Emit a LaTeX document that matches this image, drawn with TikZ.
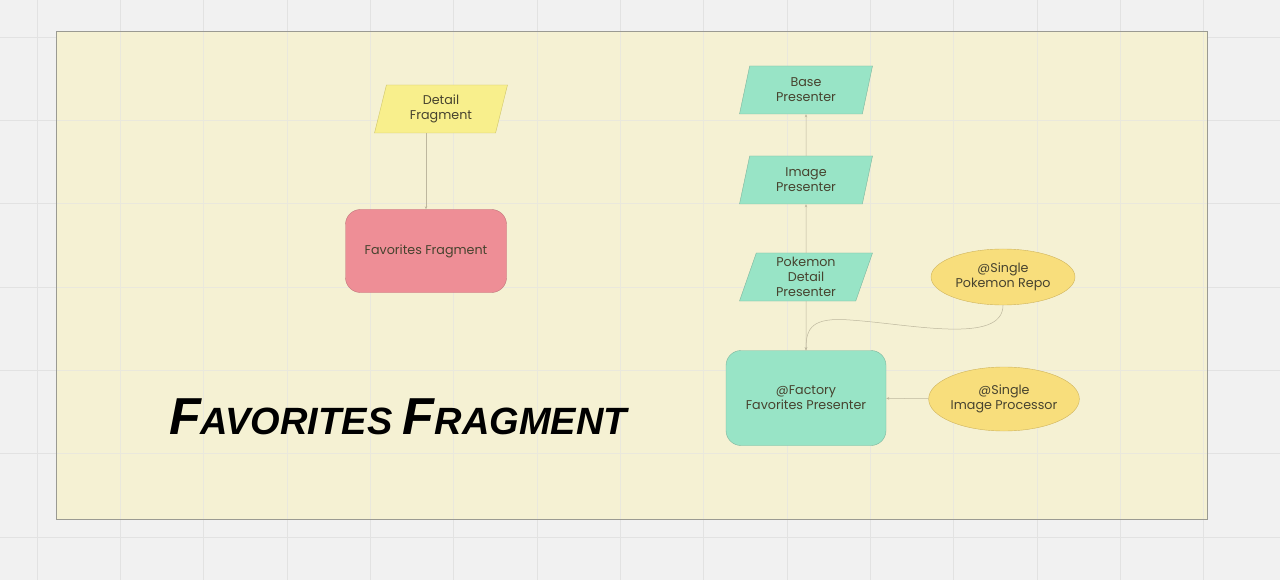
\documentclass[tikz,border=0pt]{standalone}
\usepackage{fontspec}
\setmainfont{Poppins}
\newfontfamily\titlefont{Liberation Sans}
\usetikzlibrary{shapes.geometric,arrows.meta}

\definecolor{pagebg}{HTML}{F1F1F1}
\definecolor{gridgray}{HTML}{E2E2E2}
\definecolor{framefill}{HTML}{F5F1D3}
\definecolor{frameline}{HTML}{9A9A92}
\definecolor{yelfill}{HTML}{F8EF8C}
\definecolor{yelline}{HTML}{CFC66C}
\definecolor{pinkfill}{HTML}{EE8E96}
\definecolor{pinkline}{HTML}{C0747A}
\definecolor{greenfill}{HTML}{98E4C6}
\definecolor{greenline}{HTML}{7DB59D}
\definecolor{goldfill}{HTML}{F8DE7C}
\definecolor{goldline}{HTML}{CFB45C}
\definecolor{txt}{HTML}{47432F}
\definecolor{linkcol}{HTML}{BDB79E}

\begin{document}
\begin{tikzpicture}[x=1pt,y=-1pt,
  box/.style={align=center, text=txt, inner sep=0pt, font=\fontsize{12.7}{15}\selectfont},
  para/.style={box, trapezium, trapezium left angle=67, trapezium right angle=113,
    trapezium stretches body, minimum width=133pt, minimum height=48pt, draw=greenline, fill=greenfill},
  card/.style={box, rectangle, rounded corners=15pt, draw=greenline, fill=greenfill},
  single/.style={box, ellipse, draw=goldline, fill=goldfill},
  link/.style={draw=linkcol, line width=0.5pt, -{Stealth[length=3pt,width=2.5pt]}}]

\useasboundingbox (0,0) rectangle (1280,580);
\fill[pagebg] (0,0) rectangle (1280,580);
\foreach \i in {0,...,15} \draw[gridgray, line width=0.6pt] (37+83.33*\i,0) -- (37+83.33*\i,580);
\foreach \j in {0,...,6} \draw[gridgray, line width=0.6pt] (0,37+83.33*\j) -- (1280,37+83.33*\j);
\fill[framefill] (56,31) rectangle (1207,519);
\foreach \i in {1,...,14} \draw[gridgray!60!framefill, line width=0.6pt] (37+83.33*\i,31) -- (37+83.33*\i,519);
\foreach \j in {1,...,5} \draw[gridgray!60!framefill, line width=0.6pt] (56,37+83.33*\j) -- (1207,37+83.33*\j);
\draw[frameline, line width=0.8pt] (56,31) rectangle (1207,519);

\node (detail) [para, draw=yelline, fill=yelfill] at (441,109) {Detail\\Fragment};
\node (favfrag) [card, draw=pinkline, fill=pinkfill, minimum width=161pt, minimum height=83pt] at (426,251) {Favorites Fragment};

\node (base) [para] at (806,90) {Base\\Presenter};
\node (image) [para] at (806,180) {Image\\Presenter};
\node (pokedetail) [para] at (806,277) {Pokemon\\Detail\\Presenter};
\node (factory) [card, minimum width=160pt, minimum height=95pt] at (806,398) {@Factory\\Favorites Presenter};

\node (repo) [single, minimum width=144pt, minimum height=56pt] at (1003,277) {@Single\\Pokemon Repo};
\node (processor) [single, minimum width=150pt, minimum height=64pt] at (1004,399) {@Single\\Image Processor};

\node (title) at (398,417) {\titlefont\bfseries\itshape\fontsize{52}{52}\selectfont F\fontsize{38}{38}\selectfont AVORITES
  \fontsize{52}{52}\selectfont F\fontsize{38}{38}\selectfont RAGMENT};

\draw[link] (detail.south -| favfrag.north) -- (favfrag.north);
\draw[link] (image) -- (base);
\draw[link] (pokedetail) -- (image);
\draw[link] (pokedetail) -- (factory);
\draw[link] (repo.south) .. controls (1003,345) and (910,324) .. (850,320)
  .. controls (812,317) and (806,328) .. (factory.north);
\draw[link] (processor) -- (factory);
\end{tikzpicture}
\end{document}
